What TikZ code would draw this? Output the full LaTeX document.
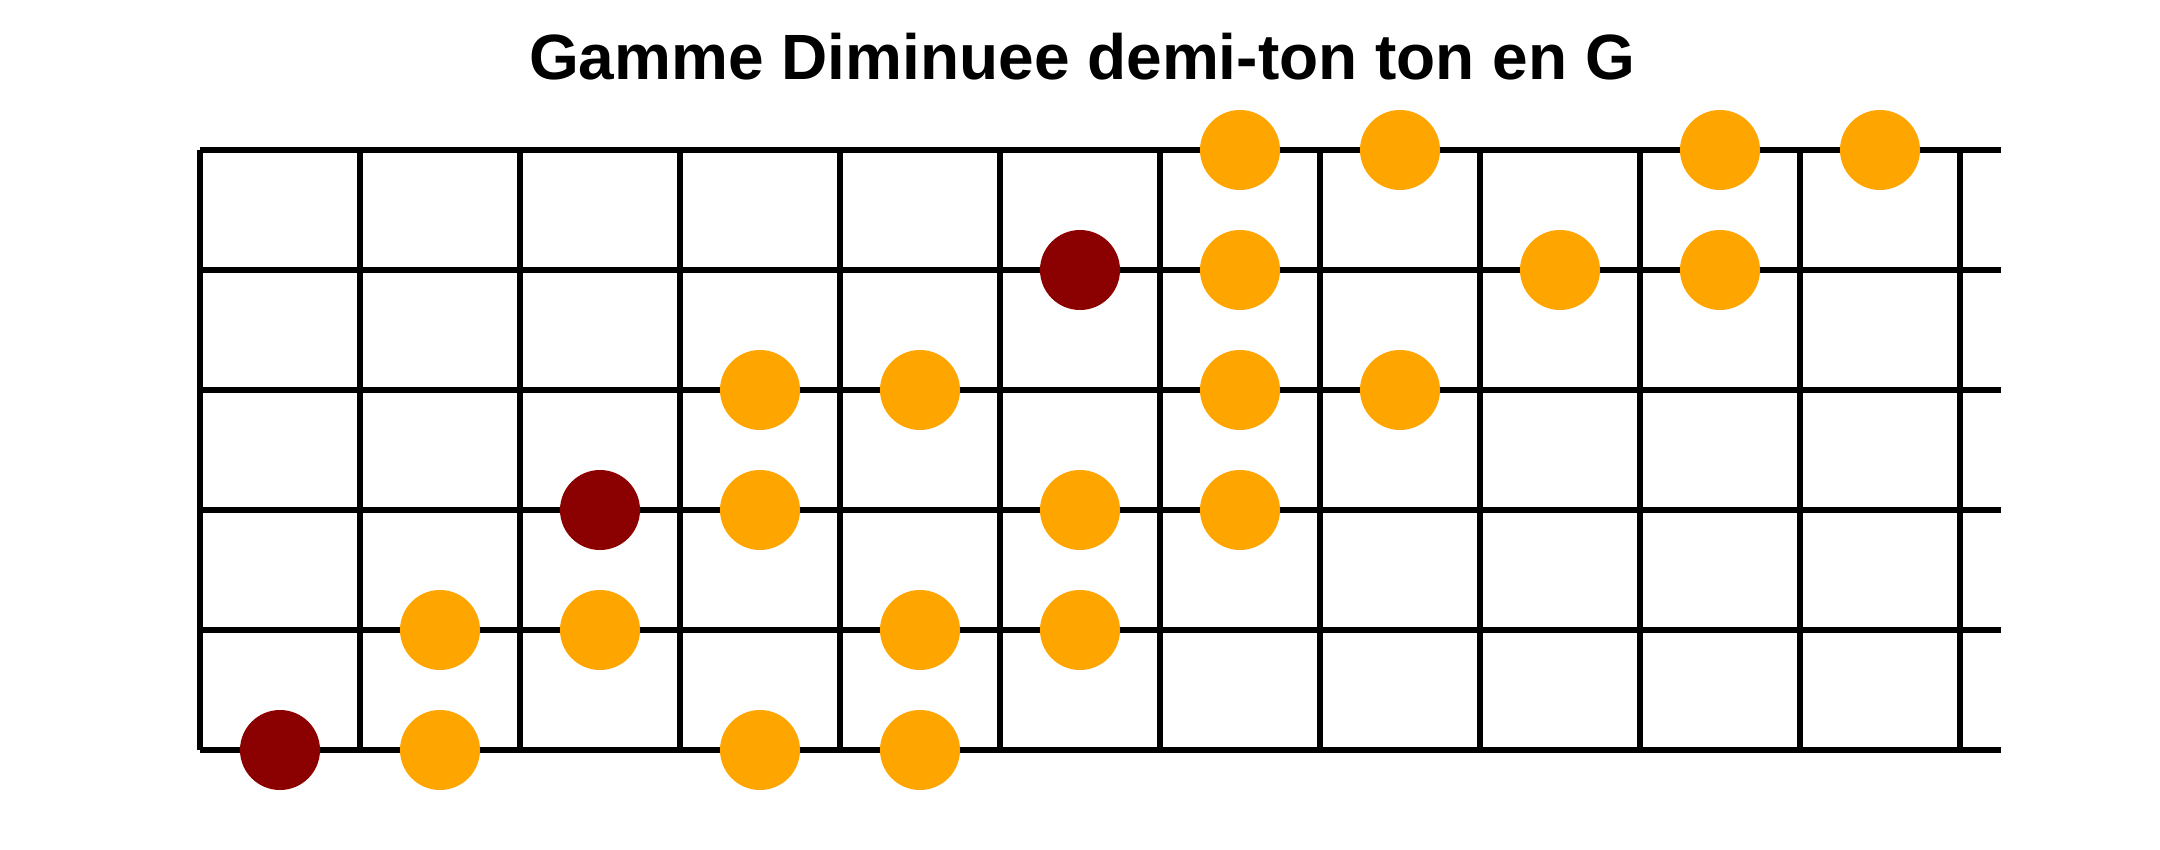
\documentclass[tikz,border=0pt]{standalone}
\usepackage{fontspec}
\setmainfont{Liberation Sans}
\definecolor{noteor}{HTML}{FFA500}
\definecolor{noteroot}{HTML}{8B0000}
\tikzset{
  gridline/.style={line width=3pt, black, line cap=butt},
  onote/.style={circle, fill=noteor, minimum size=40pt, inner sep=0pt, draw=none},
  rnote/.style={circle, fill=noteroot, minimum size=40pt, inner sep=0pt, draw=none},
  titletext/.style={font=\bfseries\fontsize{32}{38}\selectfont, anchor=base, inner sep=0pt}
}
\begin{document}
\begin{tikzpicture}[x=0.5pt,y=-0.5pt]
\useasboundingbox (0,0) rectangle (2160,850);
\fill[white] (0,0) rectangle (2160,850);
\node[titletext] (title) at (1082,80) {Gamme Diminuee demi-ton ton en G};
\foreach \i in {0,...,5} \draw[gridline] (200,150+120*\i) -- (2001,150+120*\i);
\foreach \k in {0,...,11} \draw[gridline] (200+160*\k,150) -- (200+160*\k,750);
% row 1
\node[onote] (a6) at (1240,150) {};
\node[onote] (a7) at (1400,150) {};
\node[onote] (a9) at (1720,150) {};
\node[onote] (a10) at (1880,150) {};
% row 2
\node[rnote] (b5) at (1080,270) {};
\node[onote] (b6) at (1240,270) {};
\node[onote] (b8) at (1560,270) {};
\node[onote] (b9) at (1720,270) {};
% row 3
\node[onote] (c3) at (760,390) {};
\node[onote] (c4) at (920,390) {};
\node[onote] (c6) at (1240,390) {};
\node[onote] (c7) at (1400,390) {};
% row 4
\node[rnote] (d2) at (600,510) {};
\node[onote] (d3) at (760,510) {};
\node[onote] (d5) at (1080,510) {};
\node[onote] (d6) at (1240,510) {};
% row 5
\node[onote] (e1) at (440,630) {};
\node[onote] (e2) at (600,630) {};
\node[onote] (e4) at (920,630) {};
\node[onote] (e5) at (1080,630) {};
% row 6
\node[rnote] (f0) at (280,750) {};
\node[onote] (f1) at (440,750) {};
\node[onote] (f3) at (760,750) {};
\node[onote] (f4) at (920,750) {};
\end{tikzpicture}
\end{document}
